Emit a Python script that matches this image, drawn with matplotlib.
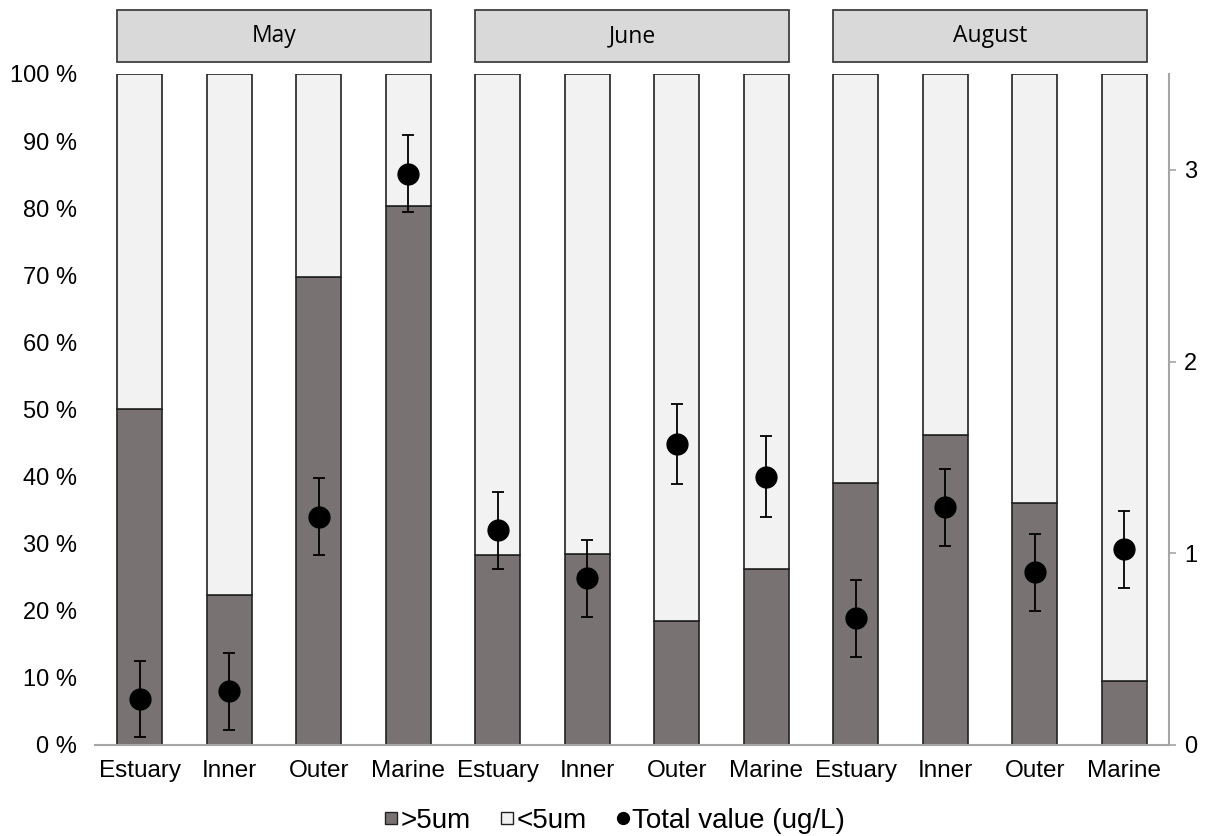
import numpy as np
import matplotlib
matplotlib.use("Agg")
import matplotlib.pyplot as plt
from matplotlib.patches import Rectangle
from matplotlib.lines import Line2D
from matplotlib.transforms import blended_transform_factory

plt.rcParams['font.family'] = ['Liberation Sans', 'DejaVu Sans']

# data
months = ["May", "June", "August"]
sites = ["Estuary", "Inner", "Outer", "Marine"]
big_pct = [50.0, 22.3, 69.8, 80.3,     # May
           28.3, 28.5, 18.5, 26.2,     # June
           39.0, 46.2, 36.0, 9.5]      # August
total = [0.24, 0.28, 1.19, 2.98,
         1.12, 0.87, 1.57, 1.40,
         0.66, 1.24, 0.90, 1.02]
total_err = [0.20, 0.20, 0.20, 0.20,
             0.20, 0.20, 0.21, 0.21,
             0.20, 0.20, 0.20, 0.20]

dark = "#787372"
light = "#f2f2f2"
edge = "#222222"
axis_gray = "#a6a6a6"

fig = plt.figure(figsize=(12.06, 8.36), dpi=100)
ax = fig.add_axes([0.0788, 0.1089, 0.8905, 0.8026])
ax2 = ax.twinx()

x = np.arange(len(big_pct))
small_pct = [100 - v for v in big_pct]
w = 0.5
ax.bar(x, big_pct, width=w, color=dark, edgecolor=edge, linewidth=1.2, zorder=2)
ax.bar(x, small_pct, width=w, bottom=big_pct, color=light, edgecolor=edge,
       linewidth=1.2, zorder=2)

ax.set_xlim(-0.5, len(x) - 0.5)
ax.set_ylim(0, 100)
ax.set_yticks(np.arange(0, 101, 10))
ax.set_yticklabels([f"{v} %" for v in range(0, 101, 10)], fontsize=17)
ax.tick_params(axis='y', length=0, pad=13)
ax.set_xticks(x)
ax.set_xticklabels(sites * len(months), fontsize=17.5)
ax.tick_params(axis='x', length=0, pad=11)
for s in ["top", "left", "right"]:
    ax.spines[s].set_visible(False)
ax.spines["bottom"].set_color(axis_gray)
ax.spines["bottom"].set_linewidth(1.5)

# right axis with total values
ax2.errorbar(x, total, yerr=total_err, fmt='o', color='black', ms=15,
             elinewidth=1.3, capsize=4, capthick=1.3, zorder=5)
ax2.set_ylim(0, 3.5)
ax2.set_yticks([0, 1, 2, 3])
ax2.tick_params(axis='y', labelsize=17, length=5, width=1.2, color=axis_gray, pad=6)
for s in ["top", "left", "bottom"]:
    ax2.spines[s].set_visible(False)
ax2.spines["right"].set_color(axis_gray)
ax2.spines["right"].set_linewidth(1.5)

# month header boxes
trans = blended_transform_factory(ax.transData, fig.transFigure)
for i, m in enumerate(months):
    x0 = i * 4 - w / 2
    x1 = i * 4 + 3 + w / 2
    rect = Rectangle((x0, 1 - 62 / 836), x1 - x0, 52 / 836, transform=trans,
                     facecolor="#d9d9d9", edgecolor="#404040", linewidth=1.3,
                     clip_on=False)
    ax.add_patch(rect)
    ax.text((x0 + x1) / 2, 1 - 36 / 836, m, transform=trans, ha='center',
            va='center', fontsize=16.5, family=['Open Sans', 'DejaVu Sans'])

handles = [Line2D([], [], marker='s', linestyle='none', ms=8,
                  markerfacecolor=dark, markeredgecolor=edge, markeredgewidth=1),
           Line2D([], [], marker='s', linestyle='none', ms=8,
                  markerfacecolor=light, markeredgecolor=edge, markeredgewidth=1),
           Line2D([], [], marker='o', color='black', linestyle='none', ms=8.5)]
fig.legend(handles, [">5um", "<5um", "Total value (ug/L)"], loc='center',
           bbox_to_anchor=(0.51, 0.018), ncol=3, frameon=False, fontsize=20,
           handlelength=0.45, handletextpad=0.1, columnspacing=1.1,
           borderpad=0.1)

fig.savefig("out.png", dpi=100)
